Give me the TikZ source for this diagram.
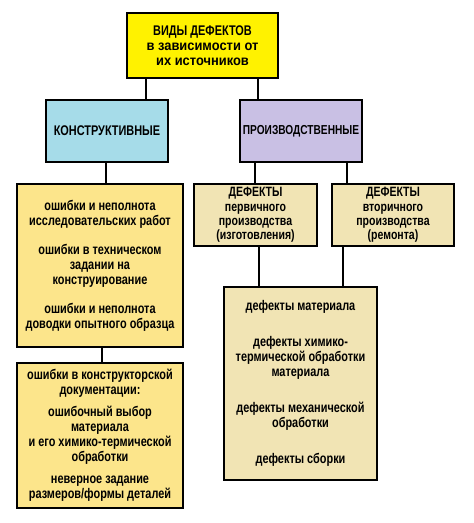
\documentclass[tikz,border=0pt]{standalone}
\usepackage{fontspec}
\setmainfont{Liberation Sans}[FakeStretch=0.78]
\newfontfamily\widesans{Liberation Sans}[FakeStretch=0.92]
\definecolor{topy}{HTML}{FFF200}
\definecolor{lefty}{HTML}{FCE58B}
\definecolor{beige}{HTML}{F1E4B4}
\definecolor{lblue}{HTML}{A6DCE9}
\definecolor{lilac}{HTML}{C9C0E4}
\tikzset{
  box/.style={draw=black, line width=1.8pt, rectangle, inner sep=0pt, align=center,
    font=\fontsize{14}{15}\selectfont\bfseries},
  tightbox/.style={box, font=\fontsize{13.5}{14.3}\selectfont\bfseries},
  link/.style={draw=black, line width=1.8pt}
}
\begin{document}
\begin{tikzpicture}[x=1pt,y=-1pt]
\useasboundingbox (0,0) rectangle (474,523);
\fill[white] (0,0) rectangle (474,523);
\node[box, fill=topy, minimum width=151pt, minimum height=65pt] (top) at (202.5,45.5)
  {ВИДЫ ДЕФЕКТОВ\\{\widesans\bfseries в зависимости от}\\{\widesans\bfseries их источников}};
\node[box, fill=lblue, minimum width=122pt, minimum height=62pt] (kon) at (107,131) {КОНСТРУКТИВНЫЕ};
\node[box, fill=lilac, minimum width=122pt, minimum height=62pt, font=\fontsize{13}{15}\selectfont\bfseries] (pro) at (301,131) {ПРОИЗВОДСТВЕННЫЕ};
\node[box, fill=lefty, minimum width=166pt, minimum height=163pt] (l1) at (100,265.5)
  {ошибки и неполнота\\исследовательских работ\\[14pt]ошибки в техническом\\задании на\\конструирование\\[14pt]ошибки и неполнота\\доводки опытного образца};
\node[box, fill=lefty, minimum width=166pt, minimum height=145pt] (l2) at (100,435.5)
  {ошибки в конструкторской\\документации:\\[7pt]ошибочный выбор\\материала\\и его химико-термической\\обработки\\[7pt]неверное задание\\размеров/формы деталей};
\node[tightbox, fill=beige, minimum width=123pt, minimum height=62pt] (d1) at (255.5,215)
  {ДЕФЕКТЫ\\первичного\\производства\\(изготовления)};
\node[tightbox, fill=beige, minimum width=122pt, minimum height=62pt] (d2) at (393,215)
  {ДЕФЕКТЫ\\вторичного\\производства\\(ремонта)};
\node[box, fill=beige, minimum width=153pt, minimum height=193pt] (bot) at (300.5,383.5)
  {дефекты материала\\[21pt]дефекты химико-\\термической обработки\\материала\\[21pt]дефекты механической\\обработки\\[21pt]дефекты сборки};
\coordinate (x1) at (146,0);
\coordinate (x2) at (258,0);
\coordinate (x3) at (106,0);
\coordinate (x4) at (102,0);
\coordinate (x5) at (255,0);
\coordinate (x6) at (347,0);
\coordinate (x7) at (259,0);
\coordinate (x8) at (343,0);
\draw[link] (top.south -| x1) -- (kon.north -| x1);
\draw[link] (top.south -| x2) -- (pro.north -| x2);
\draw[link] (kon.south -| x3) -- (l1.north -| x3);
\draw[link] (l1.south -| x4) -- (l2.north -| x4);
\draw[link] (pro.south -| x5) -- (d1.north -| x5);
\draw[link] (pro.south -| x6) -- (d2.north -| x6);
\draw[link] (d1.south -| x7) -- (bot.north -| x7);
\draw[link] (d2.south -| x8) -- (bot.north -| x8);
\end{tikzpicture}
\end{document}
